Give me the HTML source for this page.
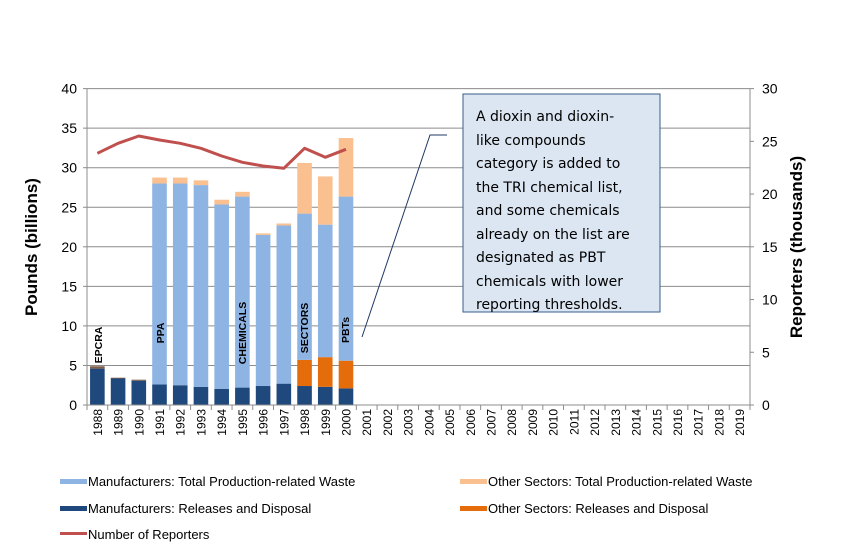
<!DOCTYPE html>
<html><head><meta charset="utf-8"><style>
html,body{margin:0;padding:0;background:#fff}
svg{display:block;font-family:"Liberation Sans",Arial,sans-serif}
</style></head><body>
<svg id="c" width="843" height="557" xmlns="http://www.w3.org/2000/svg">
<rect x="0" y="0" width="843" height="557" fill="#fff"/>
<g id="grid"></g>
<g id="bars"></g>
<g id="ax"></g>
<polyline id="line" fill="none" stroke="#c0504d" stroke-width="3" stroke-linejoin="round"/>
<g font-family="'Liberation Sans','DejaVu Sans',sans-serif" font-weight="bold" font-size="10.5" fill="#000">
<text transform="translate(102,345) rotate(-90)" text-anchor="middle">EPCRA</text>
<text transform="translate(164,333) rotate(-90)" text-anchor="middle">PPA</text>
<text transform="translate(246,333) rotate(-90)" text-anchor="middle">CHEMICALS</text>
<text transform="translate(308,328) rotate(-90)" text-anchor="middle">SECTORS</text>
<text transform="translate(349,330) rotate(-90)" text-anchor="middle">PBTs</text>
</g>
<polyline points="362,337 430,135 447,135" fill="none" stroke="#1f3864" stroke-width="1"/>
<rect x="463" y="94" width="197" height="218" fill="#dce6f2" stroke="#385d8a" stroke-width="1"/>
<g font-family="'DejaVu Sans','Liberation Sans',sans-serif" font-size="14" fill="#000">
<text x="476" y="121">A dioxin and dioxin-</text>
<text x="476" y="145">like compounds</text>
<text x="476" y="168">category is added to</text>
<text x="476" y="192">the TRI chemical list,</text>
<text x="476" y="215">and some chemicals</text>
<text x="476" y="239">already on the list are</text>
<text x="476" y="262">designated as PBT</text>
<text x="476" y="286">chemicals with lower</text>
<text x="476" y="309">reporting thresholds.</text>
</g>
<text transform="translate(37,247) rotate(-90)" text-anchor="middle" font-size="17" font-weight="bold">Pounds (billions)</text>
<text transform="translate(802,247) rotate(-90)" text-anchor="middle" font-size="17" font-weight="bold">Reporters (thousands)</text>
<g font-size="13" fill="#000">
<rect x="60" y="479" width="27" height="5" fill="#8eb4e3"/><text x="88" y="486">Manufacturers: Total Production-related Waste</text>
<rect x="60" y="506" width="27" height="5" fill="#1f497d"/><text x="88" y="513">Manufacturers: Releases and Disposal</text>
<rect x="60" y="532" width="27" height="3" fill="#c0504d"/><text x="88" y="539">Number of Reporters</text>
<rect x="460" y="479" width="27" height="5" fill="#fac090"/><text x="488" y="486">Other Sectors: Total Production-related Waste</text>
<rect x="460" y="506" width="27" height="5" fill="#e46c0a"/><text x="488" y="513">Other Sectors: Releases and Disposal</text>
</g>
</svg>
<script>
var ns="http://www.w3.org/2000/svg";
function el(p,t,a,txt){var e=document.createElementNS(ns,t);for(var k in a)e.setAttribute(k,a[k]);if(txt!==undefined)e.textContent=txt;document.getElementById(p).appendChild(e);return e;}
var x0=87,x1=750,y0=405,yt=88.6,ppu=(y0-yt)/40,cw=(x1-x0)/32;
for(var v=0;v<=40;v+=5){var y=y0-v*ppu;
 if(v>0)el("grid","line",{x1:x0,x2:x1,y1:y,y2:y,stroke:"#8c8c8c","stroke-width":1});
 el("ax","line",{x1:x0-4,x2:x0,y1:y,y2:y,stroke:"#8c8c8c"});
 el("ax","text",{x:x0-10,y:y+5,"text-anchor":"end","font-size":"14"},String(v));
}
for(var v=0;v<=30;v+=5){var y=y0-v*(y0-yt)/30;
 el("ax","line",{x1:x1,x2:x1+4,y1:y,y2:y,stroke:"#8c8c8c"});
 el("ax","text",{x:x1+12,y:y+5,"font-size":"14"},String(v));
}
el("ax","line",{x1:x0,x2:x0,y1:yt,y2:y0,stroke:"#8c8c8c"});
el("ax","line",{x1:x1,x2:x1,y1:yt,y2:y0,stroke:"#8c8c8c"});
el("ax","line",{x1:x0,x2:x1,y1:y0,y2:y0,stroke:"#8c8c8c"});
for(var i=0;i<=32;i++){var x=x0+i*cw;el("ax","line",{x1:x,x2:x,y1:y0,y2:y0+5,stroke:"#8c8c8c"});}
for(var i=0;i<32;i++){var cx=x0+(i+0.5)*cw;
 el("ax","text",{transform:"translate("+(cx+4.5)+",409) rotate(-90)","text-anchor":"end","font-size":"12"},String(1988+i));}
var d=[[4.6,4.6,4.9,4.9],[3.35,3.35,3.45,3.45],[3.07,3.07,3.2,3.2],[2.6,2.6,28.0,28.75],[2.5,2.5,28.0,28.75],[2.3,2.3,27.8,28.4],[2.05,2.05,25.35,25.95],[2.2,2.2,26.35,26.95],[2.4,2.4,21.5,21.7],[2.7,2.7,22.7,22.95],[2.4,5.7,24.2,30.6],[2.3,6.05,22.8,28.9],[2.1,5.6,26.35,33.75]];
var cols=["#1f497d","#e46c0a","#8eb4e3","#fac090"];
var bw=14.6;
d.forEach(function(r,i){var cx=x0+(i+0.5)*cw;var prev=0;
 r.forEach(function(t,j){if(t>prev){var ya=y0-t*ppu,yb=y0-prev*ppu;
  el("bars","rect",{x:cx-bw/2,y:ya,width:bw,height:yb-ya,fill:(i<3&&j==2)?"#7f5f4a":cols[j]});}prev=Math.max(prev,t);});
});
var ry=[153.3,143.3,136,140,143.3,148.3,156,162.3,166,168.3,148.3,157.3,149.3];
document.getElementById("line").setAttribute("points",ry.map(function(y,i){return (x0+(i+0.5)*cw)+","+y;}).join(" "));
</script>
</body></html>
